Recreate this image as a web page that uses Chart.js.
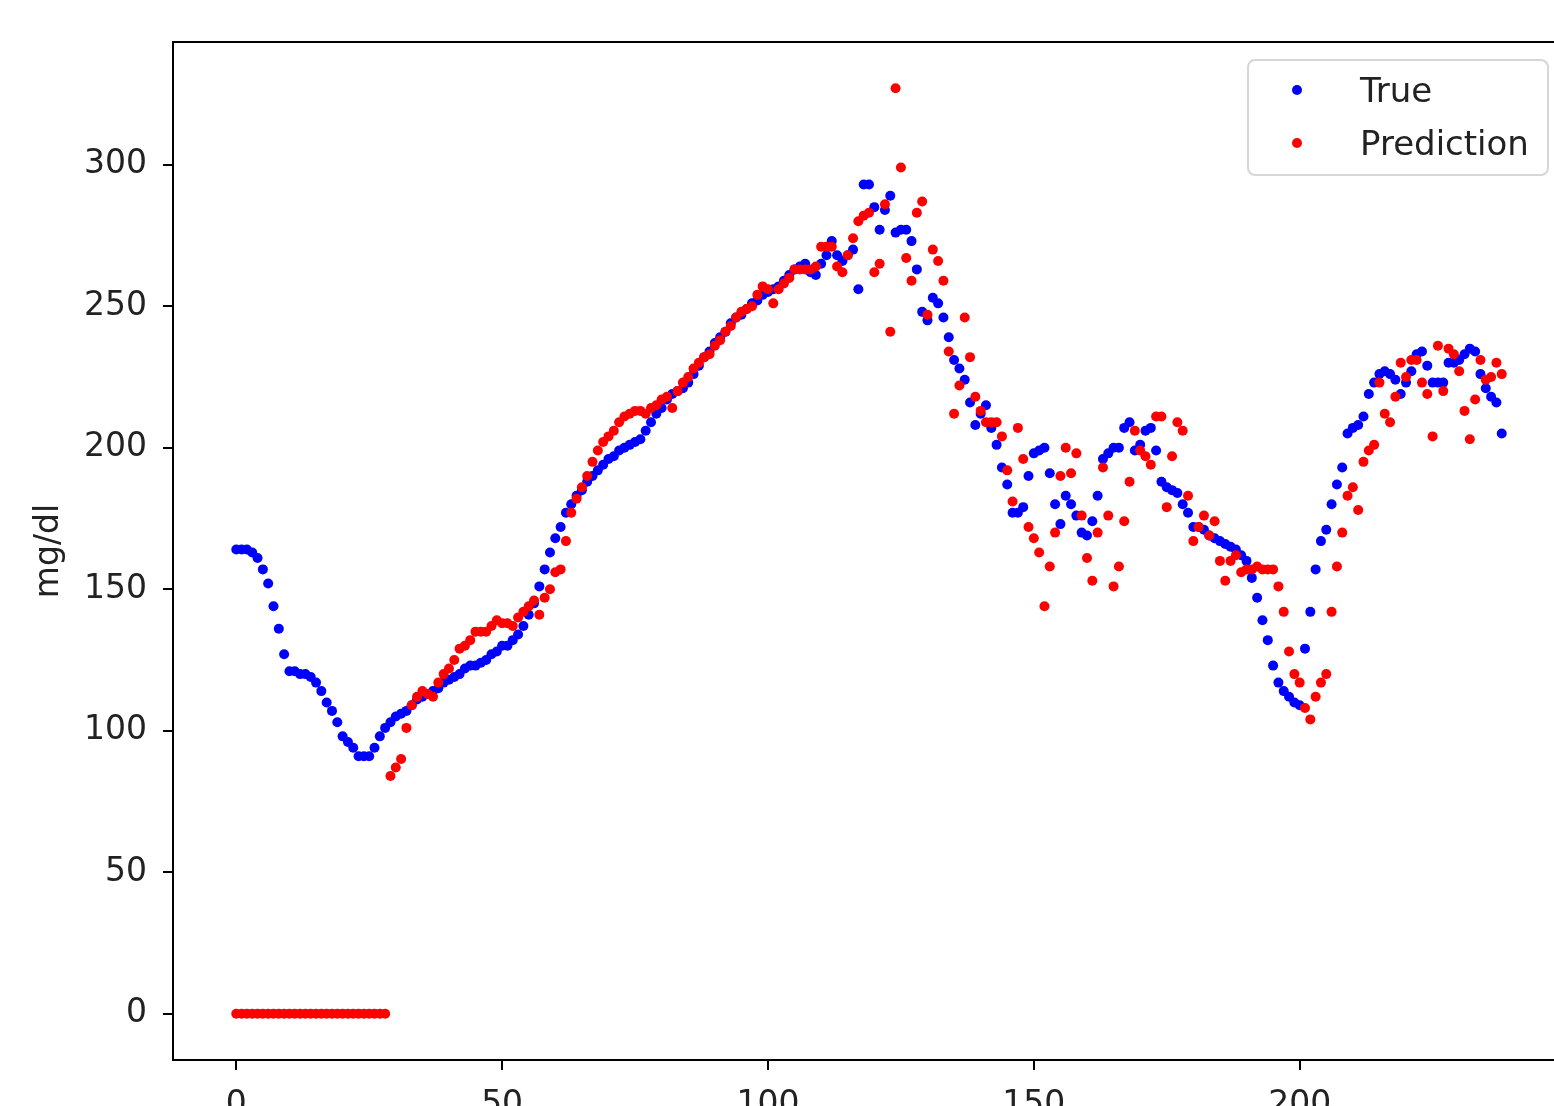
<!DOCTYPE html>
<html>
<head>
<meta charset="utf-8">
<script src="https://cdn.jsdelivr.net/npm/chart.js@4.4.1/dist/chart.umd.min.js"></script>
<style>
  html, body { margin: 0; padding: 0; background: #ffffff; overflow: hidden; }
  #wrap { position: absolute; left: 0; top: 0; width: 1600px; height: 1160px; }
</style>
</head>
<body>
<div id="wrap"><canvas id="c" width="1600" height="1160"></canvas></div>
<script>
// ---------------- data ----------------
const seriesLabels = ["True", "Prediction"];
const seriesColors = ["#0000ff", "#ff0000"];
const yAxisTitle = "mg/dl";
const xTickValues = [0, 50, 100, 150, 200];
const yTickValues = [0, 50, 100, 150, 200, 250, 300];

const trueValues = [
  164,164,164,163,161,157,152,144,136,127,
  121,121,120,120,119,117,114,110,107,103,
  98,96,94,91,91,91,94,98,101,103,
  105,106,107,109,111,112,113,114,115,117,
  118,119,120,122,123,123,124,125,127,128,
  130,130,132,134,137,141,145,151,157,163,
  168,172,177,180,183,185,188,190,192,194,
  196,197,199,200,201,202,203,206,209,212,
  214,217,219,220,221,223,226,229,232,234,
  237,239,241,244,246,247,249,251,252,254,
  255,256,257,259,261,263,264,265,262,261,
  265,268,273,268,266,268,270,256,293,293,
  285,277,284,289,276,277,277,273,263,248,
  245,253,251,246,239,231,228,224,216,208,
  212,215,207,201,193,187,177,177,179,190,
  198,199,200,191,180,173,183,180,176,170,
  169,174,183,196,198,200,200,207,209,199,
  201,206,207,199,188,186,185,184,180,177,
  172,172,171,169,168,167,166,165,164,162,
  160,154,147,139,132,123,117,114,112,110,
  109,129,142,157,167,171,180,187,193,205,
  207,208,211,219,223,226,227,226,224,219,
  223,227,233,234,229,223,223,223,230,230,
  231,233,235,234,226,221,218,216,205
];

const predictionValues = [
  0,0,0,0,0,0,0,0,0,0,
  0,0,0,0,0,0,0,0,0,0,
  0,0,0,0,0,0,0,0,0,84,
  87,90,101,109,112,114,113,112,117,120,
  122,125,129,130,132,135,135,135,137,139,
  138,138,137,140,142,144,146,141,147,150,
  156,157,167,177,182,186,190,195,199,202,
  204,206,209,211,212,213,213,212,214,215,
  217,218,214,220,223,225,228,230,232,233,
  236,238,241,243,246,248,249,250,254,257,
  256,251,256,258,260,263,263,263,263,264,
  271,271,271,264,262,268,274,280,282,283,
  262,265,286,241,327,299,267,259,283,287,
  247,270,266,259,234,212,222,246,232,218,
  213,209,209,209,204,192,181,207,196,172,
  168,163,144,158,170,190,200,191,198,176,
  161,153,170,193,176,151,158,174,188,206,
  199,197,194,211,211,179,197,209,206,183,
  167,172,176,169,174,160,153,160,162,156,
  157,157,158,157,157,157,151,142,128,120,
  117,108,104,112,117,120,142,158,170,183,
  186,178,195,199,201,223,212,209,218,230,
  225,231,231,223,219,204,236,220,235,233,
  227,213,203,217,231,224,225,230,226
];

// ---------------- chart ----------------
Chart.defaults.font.family = "'DejaVu Sans', sans-serif";
Chart.defaults.font.size = 33;
Chart.defaults.color = "#222222";

function toPoints(vals) { return vals.map((v, i) => ({ x: i, y: v })); }

const framePlugin = {
  id: 'frame',
  afterDatasetsDraw(chart) {
    const { ctx, chartArea: a } = chart;
    ctx.save();
    ctx.strokeStyle = '#000000';
    ctx.lineWidth = 2;
    ctx.strokeRect(a.left, a.top, a.right - a.left, a.bottom - a.top);
    ctx.restore();
  }
};

const boxLegend = {
  id: 'boxLegend',
  afterDraw(chart) {
    const { ctx, chartArea: a } = chart;
    const w = 300, h = 115;
    const right = a.right - 17, top = a.top + 18;
    const left = right - w;
    ctx.save();
    ctx.beginPath();
    const r = 7;
    ctx.moveTo(left + r, top);
    ctx.lineTo(left + w - r, top);
    ctx.arcTo(left + w, top, left + w, top + r, r);
    ctx.lineTo(left + w, top + h - r);
    ctx.arcTo(left + w, top + h, left + w - r, top + h, r);
    ctx.lineTo(left + r, top + h);
    ctx.arcTo(left, top + h, left, top + h - r, r);
    ctx.lineTo(left, top + r);
    ctx.arcTo(left, top, left + r, top, r);
    ctx.closePath();
    ctx.fillStyle = 'rgba(255,255,255,0.8)';
    ctx.fill();
    ctx.strokeStyle = '#d6d6d6';
    ctx.lineWidth = 2;
    ctx.stroke();
    ctx.font = "34px 'DejaVu Sans', sans-serif";
    ctx.textBaseline = 'middle';
    ctx.textAlign = 'left';
    const rows = [top + 30, top + 83];
    seriesLabels.forEach((lab, i) => {
      ctx.beginPath();
      ctx.fillStyle = seriesColors[i];
      ctx.arc(left + 49, rows[i], 5, 0, Math.PI * 2);
      ctx.fill();
      ctx.fillStyle = '#222222';
      ctx.fillText(lab, left + 112, rows[i] + 3);
    });
    ctx.restore();
  }
};

new Chart(document.getElementById('c'), {
  type: 'scatter',
  data: {
    datasets: [
      {
        label: seriesLabels[0],
        data: toPoints(trueValues),
        backgroundColor: seriesColors[0],
        borderWidth: 0,
        pointRadius: 5,
        pointHoverRadius: 5,
        order: 1
      },
      {
        label: seriesLabels[1],
        data: toPoints(predictionValues),
        backgroundColor: seriesColors[1],
        borderWidth: 0,
        pointRadius: 5,
        pointHoverRadius: 5,
        order: 0
      }
    ]
  },
  options: {
    responsive: false,
    animation: false,
    events: [],
    layout: { padding: { left: 0, top: 42, right: 35, bottom: 0 } },
    plugins: {
      legend: { display: false },
      tooltip: { enabled: false }
    },
    scales: {
      x: {
        type: 'linear',
        min: -11.9,
        max: 249.9,
        afterBuildTicks: (s) => { s.ticks = xTickValues.map(v => ({ value: v })); },
        afterFit: (s) => { s.height = 100; },
        border: { display: false },
        grid: { drawOnChartArea: false, drawTicks: true, tickLength: 10, color: '#000000', lineWidth: 2 },
        ticks: { padding: 16, color: '#222222', maxRotation: 0, autoSkip: false }
      },
      y: {
        type: 'linear',
        min: -16.35,
        max: 343.35,
        afterBuildTicks: (s) => { s.ticks = yTickValues.map(v => ({ value: v })); },
        afterFit: (s) => { s.width = 173; },
        border: { display: false },
        grid: { drawOnChartArea: false, drawTicks: true, tickLength: 10, color: '#000000', lineWidth: 2 },
        ticks: { padding: 16, color: '#222222', autoSkip: false },
        title: { display: true, text: yAxisTitle, color: '#222222', padding: { top: 30, bottom: 0 } }
      }
    }
  },
  plugins: [framePlugin, boxLegend]
});
</script>
</body>
</html>
